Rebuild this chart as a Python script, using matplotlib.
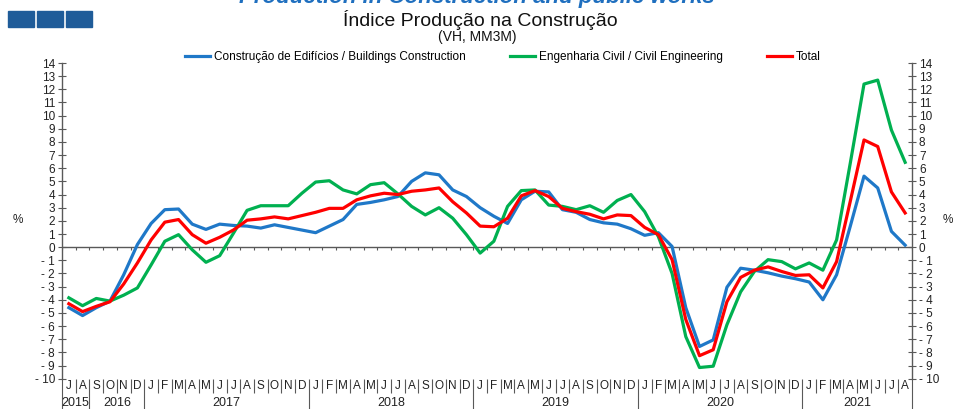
import matplotlib
matplotlib.use("Agg")
import matplotlib.pyplot as plt
from matplotlib.patches import Rectangle

plt.rcParams['font.family'] = ['Liberation Sans', 'DejaVu Sans']
plt.rcParams['axes.unicode_minus'] = False

# monthly values, Jul 2016 .. Aug 2021 (yoy %, 3 month moving average)
buildings = [-4.6, -5.2, -4.6, -4.1, -2.1, 0.2, 1.8, 2.85, 2.9, 1.75, 1.35, 1.75,
             1.65, 1.6, 1.45, 1.7, 1.5, 1.3, 1.1, 1.6, 2.1, 3.25, 3.4, 3.6,
             3.85, 5.0, 5.65, 5.5, 4.35, 3.85, 3.0, 2.35, 1.8, 3.6, 4.25, 4.2,
             2.85, 2.65, 2.1, 1.85, 1.75, 1.4, 0.9, 1.1, 0.05, -4.6, -7.55, -7.05,
             -3.05, -1.6, -1.75, -1.95, -2.2, -2.4, -2.65, -4.0, -2.1, 1.6, 5.4, 4.5,
             1.2, 0.15]
civil_eng = [-3.85, -4.45, -3.9, -4.1, -3.65, -3.1, -1.35, 0.45, 0.95, -0.2, -1.15, -0.65,
             1.05, 2.8, 3.15, 3.15, 3.15, 4.1, 4.95, 5.05, 4.35, 4.05, 4.75, 4.9,
             4.05, 3.1, 2.45, 3.0, 2.2, 0.95, -0.45, 0.45, 3.1, 4.3, 4.35, 3.2,
             3.1, 2.85, 3.15, 2.65, 3.55, 4.0, 2.7, 0.8, -2.0, -6.8, -9.15, -9.05,
             -5.9, -3.4, -1.85, -0.95, -1.1, -1.65, -1.2, -1.75, 0.55, 6.4, 12.4, 12.7,
             8.9, 6.45]
total = [-4.3, -4.9, -4.5, -4.15, -2.8, -1.2, 0.55, 1.9, 2.1, 0.95, 0.3, 0.75,
         1.3, 2.05, 2.15, 2.3, 2.15, 2.4, 2.65, 2.95, 2.95, 3.6, 3.9, 4.1,
         4.0, 4.25, 4.35, 4.5, 3.45, 2.6, 1.6, 1.55, 2.2, 3.9, 4.3, 3.85,
         2.95, 2.7, 2.5, 2.15, 2.45, 2.4, 1.5, 0.95, -0.95, -5.5, -8.25, -7.8,
         -4.15, -2.3, -1.75, -1.5, -1.85, -2.15, -2.1, -3.1, -1.1, 3.5, 8.15, 7.65,
         4.2, 2.6]

months = list("JASOND") + list("JFMAMJJASOND") * 4 + list("JFMAMJJA")
# year labels as printed on the source: (label, first month index, last month index + 1)
years = [("2015", 0, 2), ("2016", 2, 6), ("2017", 6, 18), ("2018", 18, 30),
         ("2019", 30, 42), ("2020", 42, 54), ("2021", 54, 62)]

blue = '#1f78c8'
green = '#00b050'
red = '#ff0000'
axis_col = '#595959'

W, H = 954, 409
fig = plt.figure(figsize=(W / 100, H / 100), dpi=100)
ax = fig.add_axes([62 / W, 1 - 378.7 / H, 850 / W, (378.7 - 63) / H])

n = len(months)
xs = [i + 0.5 for i in range(n)]
ax.plot(xs, buildings, color=blue, lw=2.3, label='Construção de Edifícios / Buildings Construction')
ax.plot(xs, civil_eng, color=green, lw=2.3, label='Engenharia Civil / Civil Engineering')
ax.plot(xs, total, color=red, lw=2.3, label='Total')

ax.set_xlim(0, n)
ax.set_ylim(-10, 14)

# zero line with month ticks
ax.axhline(0, color=axis_col, lw=1, zorder=1)
ax.vlines(range(n + 1), -0.25, 0, color=axis_col, lw=0.8, zorder=1)

for s in ['top', 'bottom']:
    ax.spines[s].set_visible(False)
for s in ['left', 'right']:
    ax.spines[s].set_color(axis_col)
    ax.spines[s].set_linewidth(1)

ax.set_xticks([])
ax.set_yticks(range(-10, 15))
ax.set_yticklabels([str(v) if v >= 0 else '- ' + str(-v) for v in range(-10, 15)])
ax.tick_params(axis='y', direction='inout', length=6, width=0.8, color=axis_col,
               labelsize=8.5, labelcolor='#222222', left=True, right=True,
               labelleft=True, labelright=True, pad=2)

# month labels and separators below the plot
tr = ax.get_xaxis_transform()
for i, m in enumerate(months):
    ax.text(i + 0.5, -0.024, m, transform=tr, ha='center', va='center', fontsize=8.5, color='#222222')
long_b = sorted(set([b for _, a, e in years for b in (a, e)]))
short_b = [b for b in range(n + 1) if b not in long_b]
ax.vlines(short_b, -0.045, 0, transform=tr, color=axis_col, lw=0.8, clip_on=False)
ax.vlines(long_b, -0.12, 0, transform=tr, color=axis_col, lw=0.8, clip_on=False)
for lab, a, e in years:
    ax.text((a + e) / 2, -0.078, lab, transform=tr, ha='center', va='center', fontsize=9, color='#222222')

fig.text(18 / W, 1 - 220 / H, '%', ha='center', va='center', fontsize=8.5, color='#222222')
fig.text(948 / W, 1 - 220 / H, '%', ha='center', va='center', fontsize=8.5, color='#222222')

# header
fig.text(477 / W, 1 - 3 / H, 'Production in Construction and public works', ha='center', va='baseline',
         fontsize=16, fontweight='bold', fontstyle='italic', color='#1f6fbf')
for k in range(3):
    fig.patches.append(Rectangle(((8 + k * 29) / W, 1 - 27 / H), 26 / W, 16 / H,
                                 transform=fig.transFigure, color='#1f5c99'))
fig.text(480 / W, 1 - 20 / H, 'Índice Produção na Construção', ha='center', va='center',
         fontsize=14, color='#111111')
fig.text(477 / W, 1 - 37 / H, '(VH, MM3M)', ha='center', va='center', fontsize=10, color='#111111')

fig.legend(loc='center', bbox_to_anchor=(503 / W, 1 - 57 / H), ncol=3, frameon=False,
           fontsize=8.5, handlelength=2.1, handletextpad=0.3, columnspacing=3.8)

fig.savefig('out.png', dpi=100)
